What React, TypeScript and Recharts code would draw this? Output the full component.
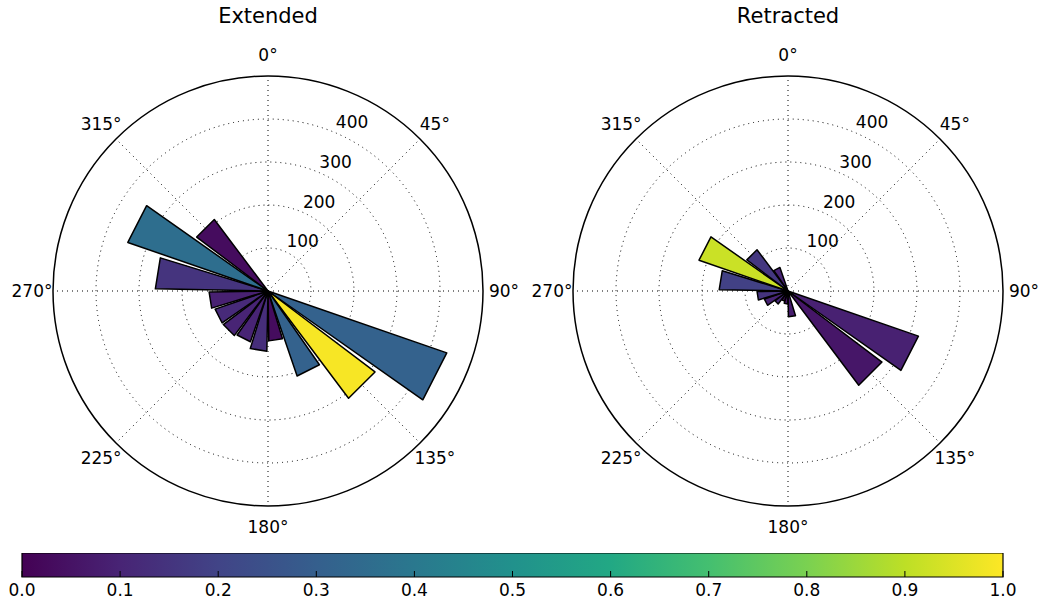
import React from "react";
import {
  RadialBarChart,
  RadialBar,
  PolarGrid,
  PolarAngleAxis,
  PolarRadiusAxis,
  Cell,
  BarChart,
  Bar,
  XAxis,
  YAxis,
} from "recharts";

// 18 degree bins, compass bearing of the bin start (0 = north, clockwise)
const binStarts = [0, 18, 36, 54, 72, 90, 108, 126, 144, 162, 180, 198, 216, 234, 252, 270, 288, 306, 324, 342];

const extendedLength = [0, 0, 0, 0, 0, 0, 440, 312, 209, 116, 140, 125, 130, 130, 137, 262, 345, 208, 0, 0];
const extendedShade = [0, 0, 0, 0, 0, 0, 0.31, 0.99, 0.31, 0.03, 0.13, 0.1, 0.1, 0.12, 0.09, 0.15, 0.36, 0.03, 0, 0];

const retractedLength = [0, 0, 0, 0, 0, 0, 321, 274, 10, 60, 30, 25, 38, 58, 72, 160, 219, 120, 58, 0];
const retractedShade = [0, 0, 0, 0, 0, 0, 0.09, 0.06, 0.1, 0.08, 0.05, 0.04, 0.12, 0.1, 0.15, 0.19, 0.92, 0.16, 0.1, 0];

const angleTicks = [0, 45, 90, 135, 180, 225, 270, 315];
const radiusTicks = [100, 200, 300, 400];
const colorbarTicks = [0, 0.1, 0.2, 0.3, 0.4, 0.5, 0.6, 0.7, 0.8, 0.9, 1];

const viridisStops = [
  "#440154", "#482475", "#414487", "#355f8d", "#2a788e",
  "#21918c", "#22a884", "#44bf70", "#7ad151", "#bddf26", "#fde725",
];

const FONT = "DejaVu Sans";
const OUTER = 215;
const SIZE = 540;
const CY = 291;
const RAD = Math.PI / 180;

const hexToRgb = (h: string) => [1, 3, 5].map((i) => parseInt(h.slice(i, i + 2), 16));

const viridis = (t: number) => {
  const x = Math.max(0, Math.min(1, t)) * (viridisStops.length - 1);
  const i = Math.min(Math.floor(x), viridisStops.length - 2);
  const f = x - i;
  const a = hexToRgb(viridisStops[i]);
  const b = hexToRgb(viridisStops[i + 1]);
  const c = a.map((v, k) => Math.round(v + (b[k] - v) * f));
  return `rgb(${c[0]},${c[1]},${c[2]})`;
};

// flat-topped wedge, like the old matplotlib polar bars
const Wedge = (props: any) => {
  const { cx, cy, innerRadius, outerRadius, startAngle, endAngle, fill } = props;
  if (!(outerRadius - innerRadius > 0.5)) return <g />;
  const pt = (r: number, a: number) =>
    `${cx + r * Math.cos(-a * RAD)},${cy + r * Math.sin(-a * RAD)}`;
  const d = `M${pt(innerRadius, startAngle)} L${pt(outerRadius, startAngle)} L${pt(
    outerRadius,
    endAngle
  )} L${pt(innerRadius, endAngle)} Z`;
  return <path d={d} fill={fill} stroke="#000" strokeWidth={1.5} strokeLinejoin="round" />;
};

const DegreeTick = (props: any) => (
  <text
    x={props.x}
    y={props.y}
    textAnchor="middle"
    dominantBaseline="central"
    fontFamily={FONT}
    fontSize={17}
    fill="#000"
  >
    {`${props.payload.value}°`}
  </text>
);

const RadiusTick = (props: any) => (
  <text
    x={props.x + 2}
    y={props.y - 10}
    textAnchor="start"
    dominantBaseline="central"
    fontFamily={FONT}
    fontSize={17}
    fill="#000"
  >
    {props.payload.value}
  </text>
);

const compassData = angleTicks.map((a) => ({ deg: a }));

function Rose({
  title,
  lengths,
  shades,
  cx,
}: {
  title: string;
  lengths: number[];
  shades: number[];
  cx: number;
}) {
  const data = binStarts.map((b, i) => ({ bin: b, length: lengths[i] }));
  return (
    <div style={{ position: "absolute", left: cx - SIZE / 2, top: CY - SIZE / 2, width: SIZE, height: SIZE }}>
      <div
        style={{
          position: "absolute",
          top: 4 - (CY - SIZE / 2),
          left: 0,
          width: SIZE,
          textAlign: "center",
          fontFamily: FONT,
          fontSize: 21,
          lineHeight: "24px",
        }}
      >
        {title}
      </div>
      {/* grid, compass labels and radial labels */}
      <div style={{ position: "absolute", left: 0, top: 0 }}>
        <RadialBarChart
          width={SIZE}
          height={SIZE}
          data={compassData}
          layout="centric"
          startAngle={90}
          endAngle={-270}
          innerRadius={0}
          outerRadius={OUTER}
        >
          <PolarAngleAxis
            type="category"
            dataKey="deg"
            tickSize={21}
            tickLine={false}
            axisLine={false}
            tick={DegreeTick}
          />
          <PolarRadiusAxis
            type="number"
            domain={[0, 500]}
            allowDataOverflow
            ticks={radiusTicks}
            angle={67.5}
            axisLine={false}
            tick={RadiusTick}
          />
          <PolarGrid gridType="circle" stroke="#000" strokeWidth={1} strokeDasharray="1 4" />
        </RadialBarChart>
      </div>
      {/* bars: one band per 18 degree bin, first band starts at north */}
      <div style={{ position: "absolute", left: 0, top: 0 }}>
        <RadialBarChart
          width={SIZE}
          height={SIZE}
          data={data}
          layout="centric"
          startAngle={72}
          endAngle={-288}
          innerRadius={0}
          outerRadius={OUTER}
          barCategoryGap="5%"
        >
          <PolarAngleAxis type="category" dataKey="bin" tick={false} tickLine={false} axisLine={false} />
          <PolarRadiusAxis type="number" domain={[0, 500]} allowDataOverflow tick={false} axisLine={false} />
          <RadialBar dataKey="length" isAnimationActive={false} shape={Wedge}>
            {data.map((_, i) => (
              <Cell key={i} fill={viridis(shades[i])} />
            ))}
          </RadialBar>
          <PolarGrid
            gridType="circle"
            polarAngles={[]}
            polarRadius={[OUTER]}
            stroke="#000"
            strokeWidth={1.5}
          />
        </RadialBarChart>
      </div>
    </div>
  );
}

const ColorbarTick = (props: any) => {
  const { x, y, payload } = props;
  return (
    <g>
      <line x1={x} x2={x} y1={y} y2={y - 6} stroke="#000" strokeWidth={1} />
      <text
        x={x}
        y={y + 13}
        textAnchor="middle"
        dominantBaseline="central"
        fontFamily={FONT}
        fontSize={17}
        fill="#000"
      >
        {Number(payload.value).toFixed(1)}
      </text>
    </g>
  );
};

const colorbarData = [{ name: "scale", v: 1 }];

export default function App() {
  return (
    <div
      style={{
        position: "absolute",
        left: 0,
        top: 0,
        width: 1044,
        height: 606,
        background: "#fff",
        fontFamily: FONT,
        overflow: "hidden",
      }}
    >
      <Rose title="Extended" lengths={extendedLength} shades={extendedShade} cx={268} />
      <Rose title="Retracted" lengths={retractedLength} shades={retractedShade} cx={788} />
      <div style={{ position: "absolute", left: 0, top: 553 }}>
        <BarChart
          width={1044}
          height={54}
          data={colorbarData}
          layout="vertical"
          margin={{ top: 0, right: 41, bottom: 0, left: 22 }}
          barCategoryGap={0}
        >
          <defs>
            <linearGradient id="viridis" x1="0" y1="0" x2="1" y2="0">
              {viridisStops.map((c, i) => (
                <stop key={i} offset={`${i * 10}%`} stopColor={c} />
              ))}
            </linearGradient>
          </defs>
          <XAxis
            type="number"
            domain={[0, 1]}
            ticks={colorbarTicks}
            height={30}
            tickSize={0}
            tickMargin={0}
            axisLine={false}
            tick={ColorbarTick}
            interval={0}
          />
          <YAxis type="category" dataKey="name" hide />
          <Bar dataKey="v" fill="url(#viridis)" stroke="#000" strokeWidth={1.2} isAnimationActive={false} />
        </BarChart>
      </div>
    </div>
  );
}
